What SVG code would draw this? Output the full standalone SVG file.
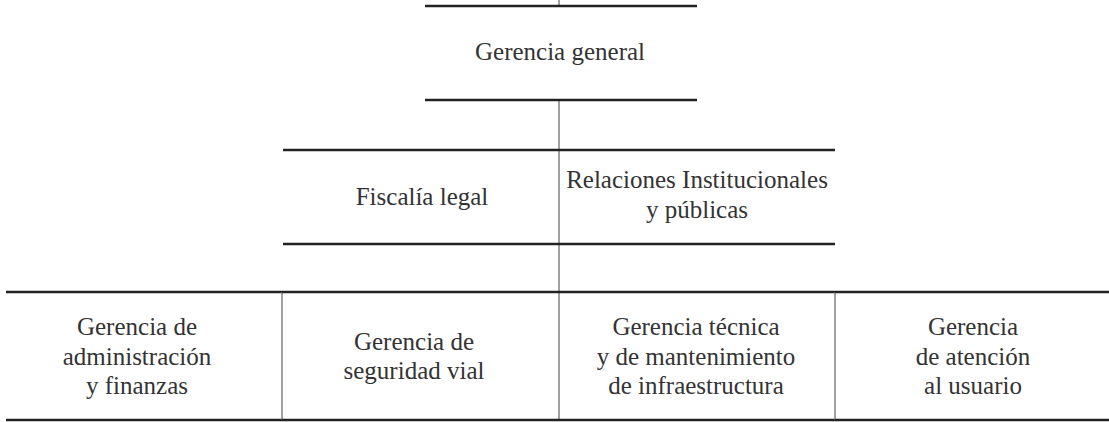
<svg xmlns="http://www.w3.org/2000/svg" width="1109" height="422" viewBox="0 0 1109 422">
<style>
.h{stroke:#222;stroke-width:2.4;fill:none}
.v{stroke:#7a7a7a;stroke-width:1.4;fill:none}
text{font-family:"Liberation Serif","DejaVu Serif",serif;font-size:25px;fill:#333;text-anchor:middle}
</style>
<rect width="1109" height="422" fill="#fff"/>
<g id="connectors">
<line class="v" x1="559" y1="0" x2="559" y2="6"/>
<line class="v" x1="559" y1="100" x2="559" y2="420"/>
</g>
<g id="gerencia-general">
<line class="h" x1="425" y1="6" x2="697" y2="6"/>
<line class="h" x1="425" y1="100" x2="697" y2="100"/>
<text x="560" y="60">Gerencia general</text>
</g>
<g id="fiscalia-legal">
<line class="h" x1="283" y1="150" x2="559" y2="150"/>
<line class="h" x1="283" y1="244" x2="559" y2="244"/>
<text x="422" y="205">Fiscalía legal</text>
</g>
<g id="relaciones">
<line class="h" x1="559" y1="150" x2="835" y2="150"/>
<line class="h" x1="559" y1="244" x2="835" y2="244"/>
<text x="697" y="188">Relaciones Institucionales</text>
<text x="697" y="217.5">y públicas</text>
</g>
<g id="gerencia-administracion">
<line class="h" x1="6" y1="292" x2="282" y2="292"/>
<line class="h" x1="6" y1="420" x2="282" y2="420"/>
<line class="v" x1="282" y1="292" x2="282" y2="420"/>
<text x="137" y="335">Gerencia de</text>
<text x="137" y="364.5">administración</text>
<text x="137" y="394">y finanzas</text>
</g>
<g id="gerencia-seguridad">
<line class="h" x1="282" y1="292" x2="559" y2="292"/>
<line class="h" x1="282" y1="420" x2="559" y2="420"/>
<text x="414" y="349.5">Gerencia de</text>
<text x="414" y="379">seguridad vial</text>
</g>
<g id="gerencia-tecnica">
<line class="h" x1="559" y1="292" x2="835" y2="292"/>
<line class="h" x1="559" y1="420" x2="835" y2="420"/>
<line class="v" x1="835" y1="292" x2="835" y2="420"/>
<text x="696" y="335">Gerencia técnica</text>
<text x="696" y="364.5">y de mantenimiento</text>
<text x="696" y="394">de infraestructura</text>
</g>
<g id="gerencia-atencion">
<line class="h" x1="835" y1="292" x2="1109" y2="292"/>
<line class="h" x1="835" y1="420" x2="1109" y2="420"/>
<text x="973" y="335">Gerencia</text>
<text x="973" y="364.5">de atención</text>
<text x="973" y="394">al usuario</text>
</g>
</svg>
